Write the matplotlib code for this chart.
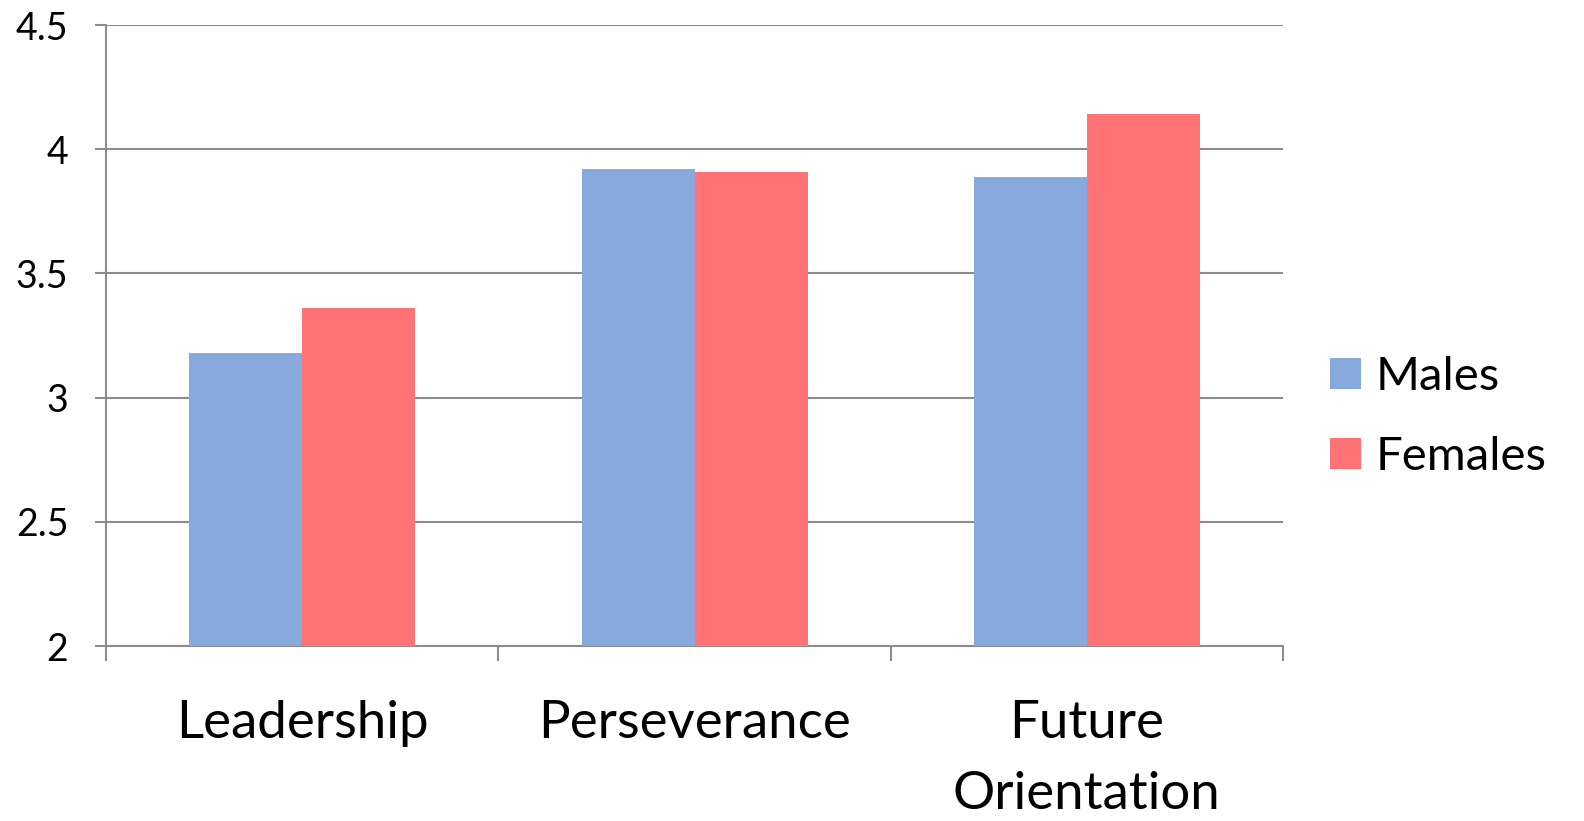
import numpy as np
import matplotlib
matplotlib.use("Agg")
import matplotlib.pyplot as plt

# values
categories = ["Leadership", "Perseverance", "Future\nOrientation"]
males = [3.18, 3.92, 3.89]
females = [3.36, 3.91, 4.14]
y_ticks = [2, 2.5, 3, 3.5, 4, 4.5]
y_labels = ["2", "2.5", "3", "3.5", "4", "4.5"]

plt.rcParams['font.family'] = ['Lato', 'DejaVu Sans']

fig = plt.figure(figsize=(15.84, 8.21), dpi=100)
ax = fig.add_axes([0.0669, 0.213, 0.7431, 0.7565])

x = np.arange(len(categories)) + 0.5
w = 0.288
ax.bar(x - w / 2, np.array(males) - 2, w, bottom=2, color="#87A9DC", label="Males", zorder=3)
ax.bar(x + w / 2, np.array(females) - 2, w, bottom=2, color="#FF7276", label="Females", zorder=3)

ax.set_xlim(0, len(categories))
ax.set_ylim(2, 4.5)
ax.set_yticks(y_ticks)
ax.set_yticklabels(y_labels, fontsize=27)
ax.yaxis.grid(True, color="#8c8c8c", linewidth=1.5, zorder=0)

# boundary ticks below the axis, labels at category centres
ax.set_xticks(np.arange(len(categories) + 1))
ax.set_xticklabels([])
ax.set_xticks(x, minor=True)
ax.set_xticklabels(categories, minor=True, fontsize=38, linespacing=1.62)
ax.tick_params(axis="x", which="major", length=11, width=1.5, color="#8c8c8c", direction="out")
ax.tick_params(axis="x", which="minor", length=0, pad=39)
ax.tick_params(axis="y", length=8, width=1.5, color="#8c8c8c", pad=19)

for side in ["top", "right"]:
    ax.spines[side].set_visible(False)
for side in ["left", "bottom"]:
    ax.spines[side].set_color("#8c8c8c")
    ax.spines[side].set_linewidth(1.5)

fig.legend(loc="center left", bbox_to_anchor=(0.813, 0.492), frameon=False,
           fontsize=34, handlelength=0.64, handleheight=0.64, handletextpad=0.32,
           labelspacing=0.8)

fig.savefig("out.png", dpi=100, facecolor="white")
